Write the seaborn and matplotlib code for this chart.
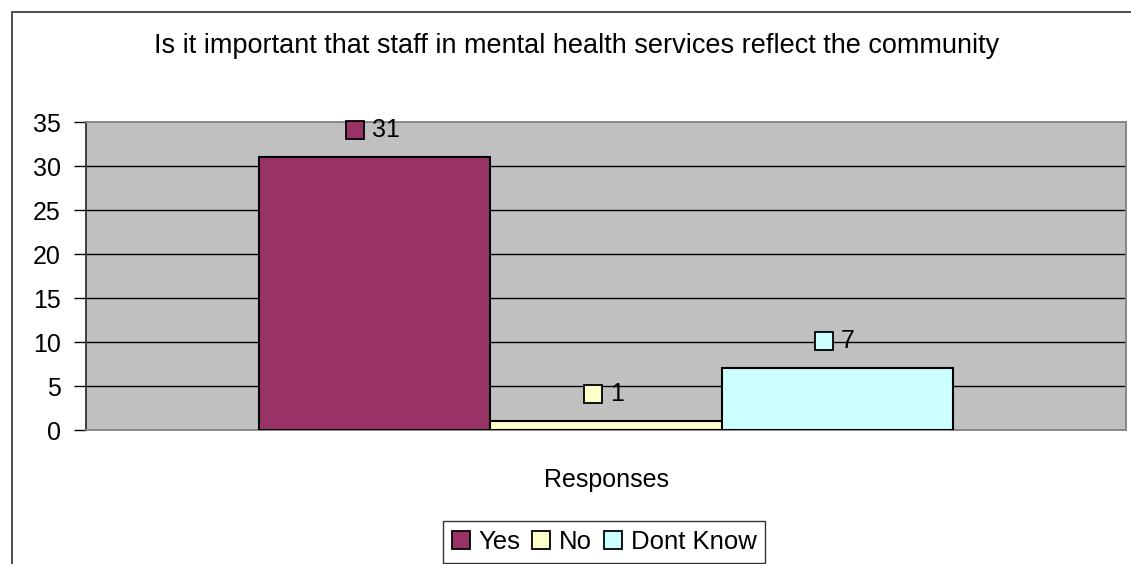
import matplotlib
matplotlib.use("Agg")
import matplotlib.pyplot as plt
import matplotlib.transforms as mtransforms
from matplotlib.patches import Rectangle
import seaborn as sns
import pandas as pd

# Survey answers
answers = ["Yes", "No", "Dont Know"]
counts = [31, 1, 7]
group = ["Responses", "Responses", "Responses"]
colors = ["#993366", "#FFFFCC", "#CCFFFF"]
title = "Is it important that staff in mental health services reflect the community"
yticks = [0, 5, 10, 15, 20, 25, 30, 35]

df = pd.DataFrame({"group": group, "answer": answers, "count": counts})

sns.set_theme(style="white")
plt.rcParams["font.family"] = ["Liberation Sans", "DejaVu Sans"]
plt.rcParams["text.color"] = "black"
plt.rcParams["xtick.color"] = "black"
plt.rcParams["ytick.color"] = "black"
plt.rcParams["axes.labelcolor"] = "black"

W, H = 1131, 564
FS = 18
fig = plt.figure(figsize=(W / 100, H / 100), dpi=100)
fig.patch.set_facecolor("white")

# outer chart frame (continues past right and bottom edges)
fig.patches.append(Rectangle((12 / W, -0.1), 1.2, 1 - 12 / H + 0.1,
                             transform=fig.transFigure, fill=False,
                             edgecolor="#404040", linewidth=1.3))

ax = fig.add_axes([86 / W, 1 - 430 / H, (1126 - 86) / W, (430 - 122) / H])
ax.set_facecolor("#C0C0C0")

sns.barplot(data=df, x="group", y="count", hue="answer", hue_order=answers,
            palette=colors, width=0.667, edgecolor="black", linewidth=1.5,
            saturation=1, ax=ax, legend=True, zorder=3)

ax.set_ylim(0, 35)
ax.set_xlim(-0.5, 0.5)
ax.set_yticks(yticks)
ax.set_yticklabels([str(v) for v in yticks], fontsize=FS, color="black")
for v in yticks[1:-1]:
    ax.axhline(v, color="black", linewidth=1.0, zorder=1)
ax.tick_params(axis="y", length=9, width=1, color="black", pad=9, left=True,
               labelcolor="black")
ax.tick_params(axis="x", length=0, pad=27, labelsize=FS, labelcolor="black")
ax.set_xlabel("")
ax.set_ylabel("")
for side in ["top", "right", "bottom"]:
    ax.spines[side].set_color("#808080")
    ax.spines[side].set_linewidth(1.3)
ax.spines["left"].set_color("#333333")
ax.spines["left"].set_linewidth(1.3)

# value labels: legend key square plus number above each bar
for bar, val, col in zip(ax.patches, counts, colors):
    cx = bar.get_x() + bar.get_width() / 2
    top = bar.get_height()
    shift = 7 * (len(str(val)) - 1)
    tr_sq = mtransforms.offset_copy(ax.transData, fig=fig, x=-13 - shift, y=27, units="dots")
    tr_tx = mtransforms.offset_copy(ax.transData, fig=fig, x=4 - shift, y=27, units="dots")
    ax.plot([cx], [top], marker="s", markersize=12.5, markerfacecolor=col,
            markeredgecolor="black", markeredgewidth=1.3, transform=tr_sq,
            clip_on=False, zorder=5)
    ax.text(cx, top, str(val), transform=tr_tx, ha="left", va="center",
            fontsize=FS, color="black", zorder=5)

fig.text(577 / W, 1 - 53 / H, title, ha="center", va="baseline", fontsize=19.5,
         color="black")

ax.get_legend().remove()
handles = [Rectangle((0, 0), 1, 1, facecolor=c, edgecolor="black", linewidth=1.3)
           for c in colors]
leg = fig.legend(handles, answers, loc="upper center",
                 bbox_to_anchor=(604 / W, 1 - 521 / H), ncol=3, fontsize=18.5,
                 frameon=True, fancybox=False, edgecolor="black",
                 handlelength=0.7, handleheight=0.7, handletextpad=0.35,
                 columnspacing=0.45, borderpad=0.35, borderaxespad=0)
leg.get_frame().set_linewidth(1.0)
for t in leg.get_texts():
    t.set_color("black")

fig.savefig("out.png", dpi=100)
